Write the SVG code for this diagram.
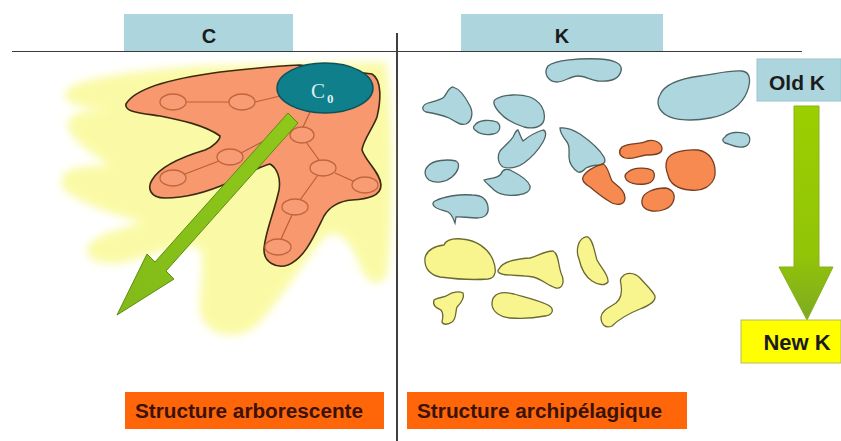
<svg xmlns="http://www.w3.org/2000/svg" width="841" height="441" viewBox="0 0 841 441">
<style>
.hdr{fill:#acd5de}
.t{font-family:"Liberation Sans",Arial,sans-serif;font-weight:bold;fill:#1b1b1b;text-anchor:middle}
.lbl{fill:#ff660a}
.lt{font-family:"Liberation Sans",Arial,sans-serif;font-weight:bold;fill:#3a1206}
.bi{fill:#add6de;stroke:#4e6464;stroke-width:1.3}
.oi{fill:#f78a50;stroke:#7a3f22;stroke-width:1.3}
.yi{fill:#f9f58e;stroke:#6a6a32;stroke-width:1.3}
.nd{fill:#f79c74;stroke:#c0663c;stroke-width:1.3}
.lk{stroke:#b8603a;stroke-width:1.2;fill:none}
</style>
<defs>
<filter id="blur" x="-10%" y="-10%" width="120%" height="120%"><feGaussianBlur stdDeviation="4"/></filter>
<linearGradient id="gv" x1="0" y1="0" x2="0" y2="1"><stop offset="0" stop-color="#9ccf00"/><stop offset="0.7" stop-color="#92c408"/><stop offset="1" stop-color="#7eaa22"/></linearGradient>
<linearGradient id="gd" x1="1" y1="0" x2="0" y2="1"><stop offset="0" stop-color="#8fc81a"/><stop offset="1" stop-color="#82bb18"/></linearGradient>
</defs>
<rect width="841" height="441" fill="#ffffff"/>

<g id="header-C"><rect class="hdr" x="124" y="14" width="169" height="38"/><text class="t" x="209" y="43" font-size="20">C</text></g>
<g id="header-K"><rect class="hdr" x="461" y="14" width="202" height="38"/><text class="t" x="562" y="43" font-size="20">K</text></g>
<g id="axes">
<line x1="12" y1="51.5" x2="802" y2="51.5" stroke="#3a3a3a" stroke-width="1.2"/>
<line x1="397" y1="33" x2="397" y2="441" stroke="#3f3f3f" stroke-width="2"/>
</g>

<g id="c-field">
<path filter="url(#blur)" fill="#fafaa6" d="M65,95 C66,80 120,72 200,66 L386,62 C393,110 394,200 388,270 C385,288 368,288 360,266 C352,244 340,228 326,236 C302,262 282,300 256,326 C236,342 205,336 200,312 C198,292 206,268 200,248 C180,242 152,256 126,262 C96,268 80,256 90,244 C100,232 128,228 142,222 C110,214 70,200 62,186 C58,168 80,165 110,166 C90,152 70,140 68,126 C66,112 90,110 110,110 C85,108 65,105 65,95 Z"/>
</g>

<g id="c-tree">
<path fill="#f7986e" stroke="#3b2a12" stroke-width="1.6" d="M126,104 C135,88 175,78 220,72 C255,68 280,66 300,65 L372,74 C382,80 381,100 377,117 C373,128 363,140 362,150 C366,162 380,172 381,185 C381,196 368,199 352,200 C340,201 330,206 324,216 C314,236 305,258 288,265 C276,269 264,262 264,250 C264,235 275,210 279,190 C281,178 277,168 270,164 C255,168 245,176 230,182 C210,191 185,198 165,198 C150,198 147,188 152,180 C160,166 185,156 205,150 C213,147 220,140 220,136 C205,125 180,120 160,116 C140,113 124,112 126,104 Z"/>
</g>

<g id="tree-links">
<line class="lk" x1="186" y1="102" x2="229" y2="102"/>
<line class="lk" x1="255" y1="102" x2="280" y2="96"/>
<line class="lk" x1="311" y1="110" x2="303" y2="127"/>
<line class="lk" x1="306" y1="142" x2="319" y2="160"/>
<line class="lk" x1="335" y1="173" x2="353" y2="181"/>
<line class="lk" x1="318" y1="175" x2="300" y2="200"/>
<line class="lk" x1="292" y1="215" x2="281" y2="239"/>
<line class="lk" x1="185" y1="174" x2="219" y2="161"/>
<line class="lk" x1="241" y1="153" x2="262" y2="142"/>
</g>

<g id="tree-nodes">
<ellipse class="nd" cx="173" cy="102" rx="13" ry="8"/>
<ellipse class="nd" cx="242" cy="102" rx="13" ry="8"/>
<ellipse class="nd" cx="302" cy="135" rx="12" ry="8"/>
<ellipse class="nd" cx="323" cy="168" rx="13" ry="8"/>
<ellipse class="nd" cx="365" cy="185" rx="13" ry="8"/>
<ellipse class="nd" cx="295" cy="207" rx="13" ry="8"/>
<ellipse class="nd" cx="278" cy="247" rx="13" ry="8"/>
<ellipse class="nd" cx="230" cy="157" rx="13" ry="8"/>
<ellipse class="nd" cx="173" cy="178" rx="13" ry="8"/>
</g>

<g id="c0">
<ellipse cx="325" cy="88" rx="48" ry="25" fill="#0f7f8b" stroke="#0a535c" stroke-width="1.5"/>
<text x="311" y="98" font-family="'Liberation Serif','Times New Roman',serif" font-size="21" fill="#dceeee">C</text>
<text x="327" y="103" font-family="'Liberation Serif','Times New Roman',serif" font-size="13" font-weight="bold" fill="#dceeee">0</text>
</g>

<g id="k-islands">
<path class="bi" d="M548,66 C555,60 580,58 600,59 C615,60 623,64 621,71 C619,79 610,82 598,81 C590,80 585,76 578,76 C570,76 565,82 557,82 C548,82 543,73 548,66 Z"/>
<path class="bi" d="M660,95 C665,82 685,78 700,76 C715,74 730,70 742,71 C751,72 751,82 747,92 C742,105 728,115 710,118 C695,121 675,121 666,115 C658,110 656,102 660,95 Z"/>
<path class="bi" d="M725,137 C728,132 740,131 747,134 C752,138 750,146 743,147 C735,148 730,144 725,143 C722,141 722,139 725,137 Z"/>
<path class="bi" d="M453,87 C460,89 466,98 470,106 C474,114 471,122 466,124 C460,126 455,121 449,118 C442,115 432,113 426,112 C421,110 422,105 428,103 C435,101 441,100 444,97 C447,93 449,87 453,87 Z"/>
<path class="bi" d="M496,99 C505,94 520,94 530,97 C540,101 546,110 544,120 C542,128 532,129 524,127 C514,124 505,119 499,112 C494,106 492,101 496,99 Z"/>
<path class="bi" d="M475,125 C478,120 490,119 497,122 C502,126 500,133 493,134 C485,136 478,133 475,130 C473,128 473,126 475,125 Z"/>
<path class="bi" d="M518,130 C520,134 521,138 523,141 C528,137 536,132 543,130 C547,131 546,137 543,142 C539,149 532,157 524,163 C518,167 510,169 503,167 C498,164 497,156 500,151 C504,146 510,142 513,137 C515,133 516,130 518,130 Z"/>
<path class="bi" d="M560,128 C566,127 572,129 580,134 C590,141 600,150 604,157 C606,161 605,164 600,165 C594,165 590,166 586,168 C583,171 581,173 578,172 C573,169 569,163 569,157 C569,150 570,146 567,142 C563,137 560,132 560,128 Z"/>
<path class="bi" d="M428,166 C433,160 448,159 456,161 C461,164 458,172 452,177 C446,182 436,184 429,180 C424,176 424,170 428,166 Z"/>
<path class="bi" d="M484,180 C490,178 497,179 501,174 C503,169 507,168 512,171 C520,175 528,180 530,186 C531,191 526,194 518,195 C510,196 500,195 494,190 C490,186 486,183 484,180 Z"/>
<path class="bi" d="M435,201 C445,196 460,194 472,195 C482,195 487,199 488,207 C489,214 485,218 477,218 C468,218 460,216 456,217 L455,223 C453,218 452,214 448,212 C442,210 436,209 434,206 C432,204 433,202 435,201 Z"/>
<path class="oi" d="M583,177 C585,172 594,166 603,164 C608,166 609,175 612,181 C617,186 625,190 625,198 C625,204 619,206 612,203 C605,199 597,193 590,187 C585,184 581,181 583,177 Z"/>
<path class="oi" d="M622,147 C630,142 640,145 647,141 C655,139 662,143 662,149 C662,155 652,155 646,155 C638,156 632,160 625,158 C619,156 618,151 622,147 Z"/>
<path class="oi" d="M628,172 C634,167 648,167 653,171 C656,176 654,183 645,184 C636,185 628,183 626,179 C624,176 625,174 628,172 Z"/>
<path class="oi" d="M667,160 C670,152 685,149 698,150 C710,152 716,162 715,175 C713,186 702,192 690,190 C678,189 670,184 668,175 C666,170 665,165 667,160 Z"/>
<path class="oi" d="M642,200 C643,192 655,188 665,188 C673,189 676,195 673,202 C670,209 660,212 652,211 C645,210 641,206 642,200 Z"/>
<path class="yi" d="M425,258 C427,249 436,246 444,245 C446,240 452,238 462,239 C476,240 488,248 493,260 C497,270 496,278 488,279 C475,280 455,279 440,277 C430,275 424,268 425,258 Z"/>
<path class="yi" d="M499,269 C502,262 515,259 530,258 C538,256 544,251 553,251 C559,254 558,265 561,273 C565,281 563,289 556,288 C548,286 542,279 533,277 C522,275 509,276 502,274 C498,273 497,271 499,269 Z"/>
<path class="yi" d="M578,246 C579,240 584,236 588,237 C593,240 594,250 597,260 C601,268 609,275 608,282 C605,286 598,285 592,281 C586,277 581,268 579,259 C577,254 577,250 578,246 Z"/>
<path class="yi" d="M434,300 C438,297 444,298 448,295 C452,292 459,291 463,293 C465,298 461,303 457,307 C455,312 457,318 452,322 C448,325 443,325 442,322 C443,318 444,314 441,310 C437,308 432,306 434,300 Z"/>
<path class="yi" d="M494,297 C498,292 506,292 514,294 C524,297 538,300 548,305 C555,309 553,315 545,316 C535,318 522,319 510,318 C500,317 493,312 492,305 C492,301 492,299 494,297 Z"/>
<path class="yi" d="M622,277 C626,272 634,272 640,278 C646,285 652,290 655,296 C656,302 648,306 640,309 C630,313 620,318 612,326 C605,329 601,324 601,317 C602,310 610,307 616,303 C622,298 622,290 621,284 C620,281 620,279 622,277 Z"/>
</g>

<g id="connectors">
<polygon points="298,123 166,271 174,279 117,315 147,254 155,262 288,113" fill="url(#gd)" stroke="#5e8c12" stroke-width="1"/>
<polygon points="794,106 819,106 819,267 833,267 807,320 779,267 794,267" fill="url(#gv)" stroke="#86b21a" stroke-width="1"/>
</g>

<g id="old-k"><rect class="hdr" x="757" y="59" width="84" height="42" stroke="#9cc6cf" stroke-width="1"/><text class="t" x="797" y="90" font-size="21">Old K</text></g>
<g id="new-k"><rect x="741" y="320" width="100" height="43" fill="#ffff00" stroke="#b8b86a" stroke-width="1"/><text class="t" x="797" y="350" font-size="22">New K</text></g>

<g id="label-arbo"><rect class="lbl" x="125" y="392" width="259" height="37"/><text class="lt" x="135" y="418" font-size="20" textLength="228" lengthAdjust="spacingAndGlyphs">Structure arborescente</text></g>
<g id="label-archi"><rect class="lbl" x="407" y="392" width="280" height="37"/><text class="lt" x="417" y="418" font-size="20" textLength="245" lengthAdjust="spacingAndGlyphs">Structure archipélagique</text></g>
</svg>
